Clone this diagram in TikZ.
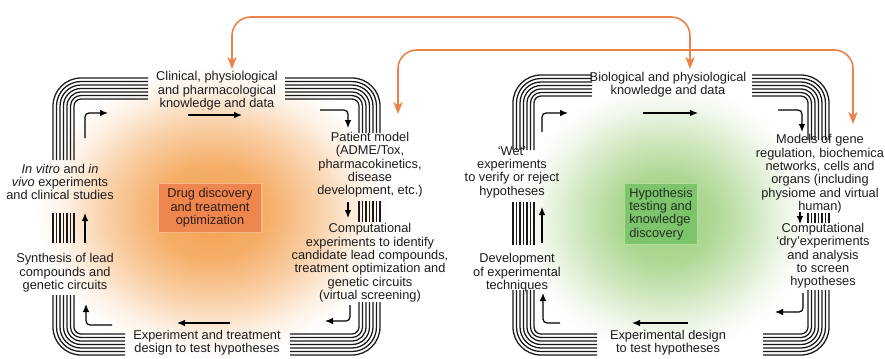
\documentclass[tikz,border=0pt]{standalone}
\usepackage{fontspec}
\setmainfont{Liberation Sans}
\usetikzlibrary{arrows.meta}

\definecolor{linkorange}{RGB}{234,130,74}
\definecolor{tubegray}{RGB}{25,25,25}
\definecolor{drugfill}{RGB}{238,134,80}
\definecolor{drugedge}{RGB}{247,182,132}
\definecolor{hypofill}{RGB}{126,196,108}
\definecolor{hypoedge}{RGB}{176,220,156}
\definecolor{glowor}{RGB}{243,160,78}
\definecolor{glowgr}{RGB}{160,208,128}
\definecolor{txt}{RGB}{28,28,28}

\pgfdeclareradialshading{orangeglow}{\pgfpoint{0bp}{0bp}}{color(0bp)=(glowor); color(8bp)=(glowor!85!white); color(15bp)=(glowor!50!white); color(21bp)=(glowor!15!white); color(25bp)=(white); color(50bp)=(white)}
\pgfdeclareradialshading{greenglow}{\pgfpoint{0bp}{0bp}}{color(0bp)=(glowgr); color(8bp)=(glowgr!85!white); color(15bp)=(glowgr!48!white); color(21bp)=(glowgr!14!white); color(25bp)=(white); color(50bp)=(white)}

\tikzset{every picture/.style={line width=0.75pt}}
\tikzset{
  tubeline/.style={color=tubegray, line width=0.95pt},
  flow/.style={-{Latex[length=6pt,width=5pt]}, line width=0.9pt, rounded corners=3pt},
  link/.style={color=linkorange, line width=1.2pt, rounded corners=14pt,
    {Stealth[length=9pt,width=7pt,inset=2.5pt]}-{Stealth[length=9pt,width=7pt,inset=2.5pt]}},
  lbl/.style={align=center, inner sep=0.75pt, text=txt, font=\fontsize{9.6}{10}\selectfont},
  drugbox/.style={lbl, fill=drugfill, draw=drugedge, line width=1pt, minimum width=78pt, minimum height=37pt, text=black!80!drugfill},
  hypobox/.style={lbl, align=left, fill=hypofill, draw=hypoedge, line width=1pt, minimum width=55pt, minimum height=46pt, text=black!75!hypofill}
}

% bundle of parallel lines, \d is the offset from the outer line
\newcommand{\tube}[1]{\foreach \k in {0,...,6}{\pgfmathsetmacro{\d}{\k*3.5}\pgfmathsetmacro{\rr}{(28-\d)*0.75}\draw[tubeline,rounded corners=\rr pt] #1;}}

\begin{document}
\begin{tikzpicture}[x=0.75pt,y=0.75pt,yscale=-1,xscale=1]
\useasboundingbox (0,0) rectangle (885,358);

% glows
\shade[shading=orangeglow] (212,212) ellipse (132pt and 110pt);
\shade[shading=greenglow] (665,218) ellipse (112pt and 102pt);

% centre boxes
\node[drugbox] (drug) at (210,208) {Drug discovery\\and treatment\\optimization};
\node[hypobox] (hypo) at (661,214) {Hypothesis\\testing and\\knowledge\\discovery};

% left cycle
\tube{(53+\d,160) -- (53+\d,78+\d) -- (148,78+\d)}
\tube{(285,78+\d) -- (380-\d,78+\d) -- (380-\d,133)}
\tube{(380-\d,201) -- (380-\d,222)}
\tube{(380-\d,302) -- (380-\d,355-\d) -- (290,355-\d)}
\tube{(125,355-\d) -- (53+\d,355-\d) -- (53+\d,295)}
\tube{(53+\d,213) -- (53+\d,243)}

% right cycle
\tube{(513+\d,150) -- (513+\d,75+\d) -- (592,75+\d)}
\tube{(752,75+\d) -- (829-\d,75+\d) -- (829-\d,140)}
\tube{(829-\d,213) -- (829-\d,223)}
\tube{(829-\d,290) -- (829-\d,355-\d) -- (763,355-\d)}
\tube{(597,355-\d) -- (513+\d,355-\d) -- (513+\d,290)}
\tube{(513+\d,202) -- (513+\d,245)}

% Text Node
\node[lbl] (clin) at (217,91) {Clinical, physiological\\and pharmacological\\knowledge and data};
\node[lbl] (patient) at (370,165) {Patient model\\(ADME/Tox,\\pharmacokinetics,\\disease\\development, etc.)};
\node[lbl] (comp) at (370,263) {Computational\\experiments to identify\\candidate lead compounds,\\treatment optimization and\\genetic circuits\\(virtual screening)};
\node[lbl] (expt) at (207,343) {Experiment and treatment\\design to test hypotheses};
\node[lbl] (synth) at (65,273) {Synthesis of lead\\compounds and\\genetic circuits};
\node[lbl] (vitro) at (60,182) {\textit{In vitro} and \textit{in}\\\textit{vivo} experiments\\and clinical studies};

\node[lbl] (bio) at (668,85) {Biological and physiological\\knowledge and data};
\node[lbl] (models) at (820,174) {Models of gene\\regulation, biochemica\\networks, cells and\\organs (including\\physiome and virtual\\human)};
\node[lbl] (dry) at (823,256) {Computational\\`dry'experiments\\and analysis\\to screen\\hypotheses};
\node[lbl] (expd) at (668,343) {Experimental design\\to test hypotheses};
\node[lbl] (devel) at (517,273) {Development\\of experimental\\techniques};
\node[lbl] (wet) at (512,172) {`Wet'\\experiments\\to verify or reject\\hypotheses};

% flow arrows, left cycle
\draw[flow] (85,138) |- (108,113);
\draw[flow] (188,115) -- (242,115);
\draw[flow] (320,110) -| (348,128);
\draw[flow] (348,202) -- (348,218);
\draw[flow] (350,305) |- (325,321);
\draw[flow] (230,323) -- (177,323);
\draw[flow] (112,325) -| (86,304);
\draw[flow] (85,243) -- (85,213);

% flow arrows, right cycle
\draw[flow] (542,132) |- (568,113);
\draw[flow] (643,113) -- (698,113);
\draw[flow] (778,110) -| (802,132);
\draw[flow] (800,212) -- (800,224);
\draw[flow] (803,293) |- (775,312);
\draw[flow] (688,323) -- (632,323);
\draw[flow] (560,323) -| (543,293);
\draw[flow] (542,243) -- (542,207);

% links between the two cycles
\coordinate (clintop) at (232,69);
\coordinate (biotop) at (690,69);
\coordinate (pattop) at (398,114);
\coordinate (modtop) at (853,124);
\draw[link] (clintop) |- (460,17) -| (biotop);
\draw[link] (pattop) |- (620,50) -| (modtop);

\end{tikzpicture}
\end{document}
